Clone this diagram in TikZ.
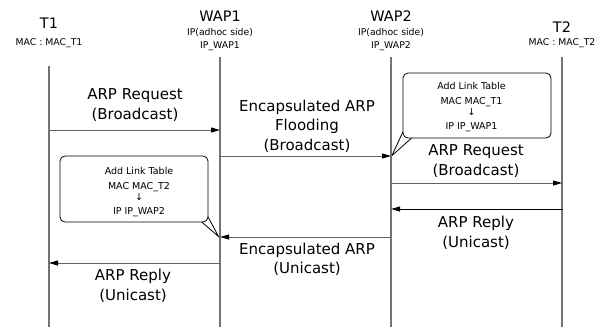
\documentclass[tikz,border=0pt]{standalone}
\usepackage{fontspec}
\setmainfont{DejaVu Sans}
\usetikzlibrary{arrows.meta}
\begin{document}
\begin{tikzpicture}[x=1pt,y=-1pt,
  life/.style={draw=black!55, line width=1.2pt},
  msg/.style={draw=black!62, line width=1pt, -{Triangle[length=9pt,width=5pt,black]}},
  big/.style={font=\fontsize{15}{19.5}\selectfont, align=center, inner sep=0pt},
  head/.style={font=\fontsize{14.5}{17}\selectfont, inner sep=0pt},
  small/.style={font=\fontsize{9.3}{13}\selectfont, inner sep=0pt, align=center},
  note/.style={font=\fontsize{9.5}{14.5}\selectfont, align=center, inner sep=0pt},
  callbox/.style={draw=black, line width=0.8pt, rounded corners=5pt, minimum width=148pt, inner sep=0pt},
  tail/.style={draw=black, line width=0.8pt}]
\useasboundingbox (0,0) rectangle (608,327);

% headers
\node[head]  (T1)  at (49,23) {T1};
\node[small] (T1m) at (49,43) {MAC : MAC\_T1};
\node[head]  (W1)  at (220,16) {WAP1};
\node[small] (W1a) at (220,40) {IP(adhoc side)\\IP\_WAP1};
\node[head]  (W2)  at (391,16) {WAP2};
\node[small] (W2a) at (391,40) {IP(adhoc side)\\IP\_WAP2};
\node[head]  (T2)  at (562,27) {T2};
\node[small] (T2m) at (562,43) {MAC : MAC\_T2};

% callout 1 (at WAP2)
\node[callbox, minimum height=65pt] (c1) at (477,105.5) {};
\coordinate (c1tip) at (392,155.5);
\coordinate (c1a) at (403,131.7);
\coordinate (c1b) at (411.7,138);
\fill[white] (402,131) -- (c1tip) -- (412.5,139) -- (402,139.5) -- cycle;
\draw[tail] (c1a) -- (c1tip) -- (c1b);
\node[note] (c1t) at (471.5,107.5) {Add Link Table\\MAC MAC\_T1\\[-3.5pt]↓\\IP IP\_WAP1};

% callout 2 (at WAP1)
\node[callbox, minimum height=66pt] (c2) at (134,189) {};
\coordinate (c2tip) at (218.5,236.5);
\coordinate (c2a) at (208,216.7);
\coordinate (c2b) at (201.7,222);
\fill[white] (209,216) -- (c2tip) -- (201,223) -- (209,223) -- cycle;
\draw[tail] (c2a) -- (c2tip) -- (c2b);
\node[note] (c2t) at (139,192.5) {Add Link Table\\MAC MAC\_T2\\[-3.5pt]↓\\IP IP\_WAP2};

% lifelines
\coordinate (L1t) at (49,66);   \coordinate (L1b) at (49,327);
\coordinate (L2t) at (220,57);  \coordinate (L2b) at (220,327);
\coordinate (L3t) at (391,57);  \coordinate (L3b) at (391,327);
\coordinate (L4t) at (562,57);  \coordinate (L4b) at (562,327);
\draw[life] (L1t) -- (L1b);
\draw[life] (L2t) -- (L2b);
\draw[life] (L3t) -- (L3b);
\draw[life] (L4t) -- (L4b);

% message end points
\coordinate (m1s) at (49,130);  \coordinate (m1e) at (220,130);
\coordinate (m2s) at (220,156); \coordinate (m2e) at (391,156);
\coordinate (m3s) at (391,183); \coordinate (m3e) at (562,183);
\coordinate (m4s) at (563,209); \coordinate (m4e) at (391,209);
\coordinate (m5s) at (391,237); \coordinate (m5e) at (220,237);
\coordinate (m6s) at (220,263); \coordinate (m6e) at (49,263);
\draw[msg] (m1s) -- (m1e);
\draw[msg] (m2s) -- (m2e);
\draw[msg] (m3s) -- (m3e);
\draw[msg, draw=black] (m4s) -- (m4e);
\draw[msg] (m5s) -- (m5e);
\draw[msg] (m6s) -- (m6e);

% labels
\node[big] (l1) at (135,105) {ARP Request\\(Broadcast)};
\node[big] (l2) at (307,126) {Encapsulated ARP\\Flooding\\(Broadcast)};
\node[big] (l3) at (476,161) {ARP Request\\(Broadcast)};
\node[big] (l4) at (476,233) {ARP Reply\\(Unicast)};
\node[big] (l5) at (307,259.5) {Encapsulated ARP\\(Unicast)};
\node[big] (l6) at (133,286) {ARP Reply\\(Unicast)};
\end{tikzpicture}
\end{document}
